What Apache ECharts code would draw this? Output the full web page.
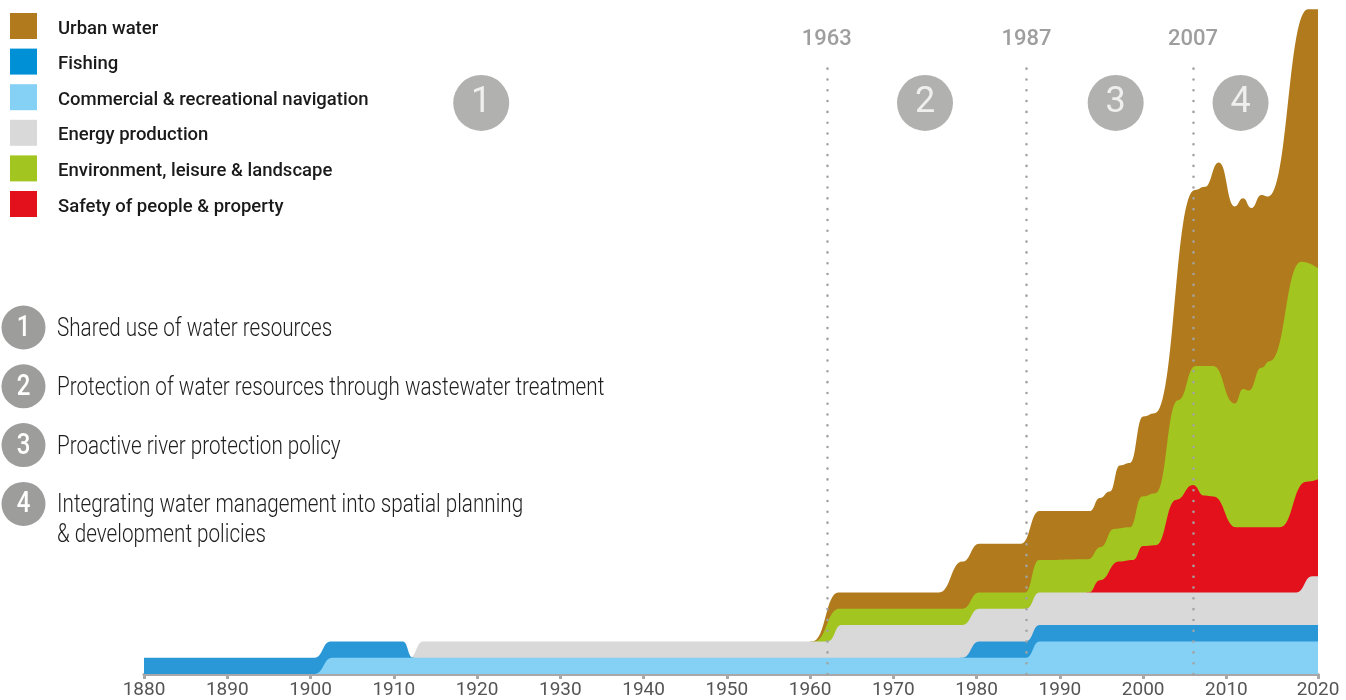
<!DOCTYPE html>
<html>
<head>
<meta charset="utf-8">
<title>Water uses 1880-2020</title>
<script src="https://cdn.jsdelivr.net/npm/echarts@6.0.0/dist/echarts.min.js"></script>
<style>
  html, body { margin: 0; padding: 0; background: #fff; }
  #main { width: 1346px; height: 700px; }
</style>
</head>
<body>
<div id="main"></div>
<script>
// top edge of each layer, [year, level] (layers pile up)
var navigationTop = [[1900.2, 0], [1900.5, 0], [1902.6, 1], [1985.95, 1], [1987.55, 2], [2021, 2]];
var fishingTop = [[1880, 1], [1900.5, 1], [1902.4, 2], [1911.1, 2], [1912.3, 1], [1912.5, 1], [1912.6, '-'],
    [1978.0, 1], [1978.3, 1], [1980.3, 2], [1985.95, 2], [1987.55, 3], [2021, 3]];
var energyTop = [[1911.6, 1], [1911.9, 1], [1913.5, 2], [1962.15, 2], [1963.75, 3], [1978.3, 3], [1980.3, 4],
    [1985.95, 4], [1987.55, 5], [2018.4, 5], [2020.3, 6], [2021, 6]];
var safetyTop = [[1993.2, 5], [1993.5, 5], [1994.8, 5.75], [1997.1, 6.9], [1998.8, 7.0], [2000.0, 7.85], [2001.5, 7.9],
    [2004.0, 10.7], [2006.0, 11.6], [2007.3, 10.95], [2008.4, 10.9], [2011.2, 9.0], [2016.4, 9.0], [2019.6, 11.8], [2021, 11.95]];
var environmentTop = [[1960.2, 2], [1960.5, 2], [1963.5, 4], [1978.3, 4], [1980.3, 5], [1985.8, 5], [1987.5, 7.0],
    [1993.4, 7.05], [1994.9, 7.8], [1996.5, 8.9], [1998.4, 9.0], [1999.9, 10.9], [2001.5, 11.1], [2004.2, 16.8],
    [2006.3, 18.9], [2008.4, 18.9], [2011.0, 16.6], [2012.0, 17.5], [2012.7, 17.4], [2014.2, 18.8], [2015.2, 19.2],
    [2019.0, 25.3], [2021, 24.9]];
var urbanTop = [[1960.0, 2], [1960.3, 2], [1963.4, 5], [1975.5, 5], [1978.3, 6.9], [1980.3, 8.0], [1985.35, 8.0],
    [1987.55, 10.0], [1993.6, 10.0], [1994.8, 10.8], [1996.0, 11.2], [1997.2, 12.8], [1998.4, 12.95], [2000.0, 15.8],
    [2001.4, 16.0], [2006.2, 29.7], [2007.4, 29.9], [2009.1, 31.4], [2011.0, 28.7], [2012.0, 29.2], [2013.0, 28.6],
    [2014.2, 29.4], [2015.0, 29.3], [2019.8, 40.8], [2021, 40.8]];

var legendNames = ['Urban water', 'Fishing', 'Commercial & recreational navigation', 'Energy production',
    'Environment, leisure & landscape', 'Safety of people & property'];

// x axis ticks (the last one sits at the end of the axis)
var tickYears = [1880, 1890, 1900, 1910, 1920, 1930, 1940, 1950, 1960, 1970, 1980, 1990, 2000, 2010, 2021];
var tickText = ['1880', '1890', '1900', '1910', '1920', '1930', '1940', '1950', '1960', '1970', '1980', '1990', '2000', '2010', '2020'];

// dotted period lines
var periodLineYears = [1962.0, 1986.0, 2006.0];
var periodLineText = ['1963', '1987', '2007'];
var periodLineTop = 37.7;

// numbered period markers
var periodYears = [1920.5, 1973.8, 1996.7, 2011.7];
var periodNums = ['1', '2', '3', '4'];
var periodLevel = 35.05;

var steps = [
    'Shared use of water resources',
    'Protection of water resources through wastewater treatment',
    'Proactive river protection policy',
    'Integrating water management into spatial planning\n& development policies'
];

function layer(name, data, color, fill) {
    return {
        type: 'line',
        name: name,
        data: data,
        color: color,
        smooth: 0.5,
        smoothMonotone: 'x',
        showSymbol: false,
        symbol: 'none',
        connectNulls: false,
        silent: true,
        lineStyle: { width: 0 },
        areaStyle: { color: fill, opacity: 1 }
    };
}

var grey = '#9d9d9b';
var graphics = [];
steps.forEach(function (t, i) {
    var cy = 327.5 + i * 58.8;
    graphics.push({ type: 'circle', shape: { cx: 23.5, cy: cy, r: 22 }, style: { fill: grey } });
    graphics.push({
        type: 'text', x: 23.5, y: cy + 1, scaleX: 0.8,
        style: { text: String(i + 1), fill: '#fff', fontFamily: 'Roboto', fontSize: 30, fontWeight: 500, align: 'center', verticalAlign: 'middle' }
    });
    graphics.push({
        type: 'text', x: 57, y: cy - 13, scaleX: 0.795,
        style: { text: t, fill: '#1e1e1e', fontFamily: 'Roboto', fontSize: 26, fontWeight: 300, lineHeight: 30, align: 'left', verticalAlign: 'top' }
    });
});

var legendFont = { fontFamily: 'Roboto', fontSize: 18.5, fontWeight: 500, color: '#1a1a1a' };

var myChart = echarts.init(document.getElementById('main'));
myChart.setOption({
    animation: false,
    backgroundColor: '#fff',
    grid: { left: 144, right: 28, top: 6, bottom: 26 },
    legend: {
        orient: 'vertical',
        left: 10,
        top: 13,
        padding: 0,
        icon: 'rect',
        itemWidth: 27,
        itemHeight: 26,
        itemGap: 9.6,
        selectedMode: false,
        data: legendNames,
        itemStyle: { borderWidth: 0 },
        formatter: '{t|{name}}',
        textStyle: {
            fontFamily: 'Roboto', fontSize: 18.5, fontWeight: 500, color: '#1a1a1a', padding: [0, 0, 0, 16],
            rich: { t: Object.assign({ padding: [6, 0, 0, 0] }, legendFont) }
        }
    },
    xAxis: {
        type: 'value',
        min: 1880,
        max: 2021,
        interval: 10,
        splitLine: { show: false },
        axisLine: { show: true, lineStyle: { color: '#a8a8a8', width: 3 } },
        axisTick: { show: true, length: 5, customValues: tickYears, lineStyle: { color: '#a8a8a8', width: 3 } },
        axisLabel: {
            customValues: tickYears,
            formatter: function (v) {
                var k = tickYears.indexOf(v);
                return k < 0 ? '' : tickText[k];
            },
            fontFamily: 'Roboto', fontSize: 19, color: '#555', margin: 7
        }
    },
    yAxis: { type: 'value', min: 0, max: 41, show: false },
    graphic: graphics,
    series: [
        layer('Urban water', urbanTop, '#b17b1d', '#b17b1d'),
        layer('Environment, leisure & landscape', environmentTop, '#a3c51f', '#a3c51f'),
        layer('Safety of people & property', safetyTop, '#e3111b', '#e3111b'),
        layer('Energy production', energyTop, '#d9d9d9', '#d9d9d9'),
        layer('Fishing', fishingTop, '#0090d6', '#2a98d6'),
        layer('Commercial & recreational navigation', navigationTop, '#85d0f5', '#85d0f5'),
        {
            type: 'scatter',
            silent: true,
            z: 5,
            symbolSize: 56,
            itemStyle: { color: grey },
            data: periodYears.map(function (x, i) { return { name: periodNums[i], value: [x, periodLevel] }; }),
            label: { show: true, position: 'inside', formatter: '{b}', color: '#fff', fontFamily: 'Roboto', fontSize: 36 },
            markLine: {
                silent: true,
                symbol: ['none', 'none'],
                lineStyle: { color: '#a3a3a3', width: 2.6, type: [0.01, 10.8], cap: 'round' },
                label: { show: true, position: 'end', formatter: '{b}', distance: 9, color: '#9e9e9e', fontFamily: 'Roboto', fontSize: 22, fontWeight: 500 },
                data: periodLineYears.map(function (x, i) {
                    return [{ name: periodLineText[i], coord: [x, 0] }, { coord: [x, periodLineTop] }];
                })
            }
        }
    ]
});
</script>
</body>
</html>
